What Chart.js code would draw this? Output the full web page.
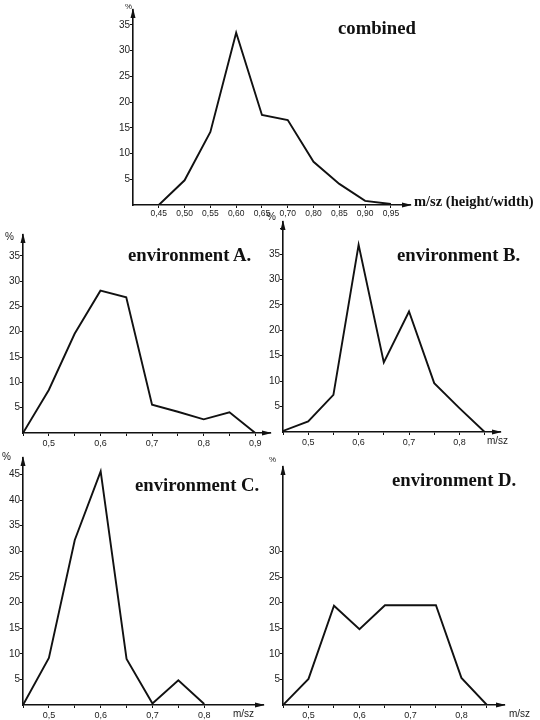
<!DOCTYPE html>
<html>
<head>
<meta charset="utf-8">
<script src="https://cdn.jsdelivr.net/npm/chart.js@4.4.1/dist/chart.umd.min.js"></script>
<style>
  body { margin: 0; background: #fff; width: 540px; height: 720px; position: relative; overflow: hidden; }
  canvas { position: absolute; }
  .title { position: absolute; font-family: "Liberation Serif", serif; font-weight: bold; font-size: 18.7px; line-height: 18.7px; color: #111; white-space: nowrap; }
  .small { position: absolute; font-family: "Liberation Sans", sans-serif; font-size: 10px; line-height: 10px; color: #222; white-space: nowrap; }
</style>
</head>
<body>
<canvas id="chartCombined" width="320" height="225" style="left:100px;top:0px"></canvas>
<canvas id="chartA" width="280" height="225" style="left:0px;top:225px"></canvas>
<canvas id="chartB" width="280" height="235" style="left:260px;top:215px"></canvas>
<canvas id="chartC" width="270" height="270" style="left:0px;top:450px"></canvas>
<canvas id="chartD" width="278" height="270" style="left:262px;top:450px"></canvas>

<div class="title" style="left:338px;top:19px">combined</div>
<div class="title" style="left:128px;top:246px">environment A.</div>
<div class="title" style="left:397px;top:246px">environment B.</div>
<div class="title" style="left:135px;top:476px">environment C.</div>
<div class="title" style="left:392px;top:471px">environment D.</div>

<div class="title" style="left:414px;top:194px;font-size:14.5px;line-height:14.5px">m/sz (height/width)</div>

<div class="small" style="left:125px;top:2px;font-size:8px">%</div>
<div class="small" style="left:5px;top:232px">%</div>
<div class="small" style="left:267px;top:212px">%</div>
<div class="small" style="left:2px;top:452px">%</div>
<div class="small" style="left:269px;top:455px;font-size:8px">%</div>
<div class="small" style="left:487px;top:436px">m/sz</div>
<div class="small" style="left:233px;top:709px">m/sz</div>
<div class="small" style="left:509px;top:709px">m/sz</div>

<script>
// combined (note: the original axis skips 0,75)
const categoriesCombined = ['0,45', '0,50', '0,55', '0,60', '0,65', '0,70', '0,80', '0,85', '0,90', '0,95'];
const valuesCombined = [0, 4.8, 14.2, 33.5, 17.5, 16.5, 8.4, 4.1, 0.8, 0.2];
const xLabelsCombined = ['0,45', '0,50', '0,55', '0,60', '0,65', '0,70', '0,80', '0,85', '0,90', '0,95'];
const yTicksCombined = [5, 10, 15, 20, 25, 30, 35];
const yLabelsCombined = ['5', '10', '15', '20', '25', '30', '35'];

// environment A
const categoriesA = [0.45, 0.50, 0.55, 0.60, 0.65, 0.70, 0.75, 0.80, 0.85, 0.90];
const valuesA = [0, 8.5, 19.6, 28.1, 26.8, 5.6, 4.2, 2.7, 4.1, 0];
const xLabelsA = ['', '0,5', '', '0,6', '', '0,7', '', '0,8', '', '0,9'];
const yTicksA = [5, 10, 15, 20, 25, 30, 35];
const yLabelsA = ['5', '10', '15', '20', '25', '30', '35'];

// environment B
const categoriesB = [0.45, 0.50, 0.55, 0.60, 0.65, 0.70, 0.75, 0.80, 0.85];
const valuesB = [0.2, 2.1, 7.3, 36.8, 13.7, 23.7, 9.6, 4.7, 0];
const xLabelsB = ['', '0,5', '', '0,6', '', '0,7', '', '0,8', ''];
const yTicksB = [5, 10, 15, 20, 25, 30, 35, 40];
const yLabelsB = ['5', '10', '15', '20', '25', '30', '35', ''];

// environment C
const categoriesC = [0.45, 0.50, 0.55, 0.60, 0.65, 0.70, 0.75, 0.80];
const valuesC = [0, 9.2, 32.2, 45.6, 9.0, 0.3, 4.8, 0.2];
const xLabelsC = ['', '0,5', '', '0,6', '', '0,7', '', '0,8'];
const yTicksC = [5, 10, 15, 20, 25, 30, 35, 40, 45];
const yLabelsC = ['5', '10', '15', '20', '25', '30', '35', '40', '45'];

// environment D
const categoriesD = [0.45, 0.50, 0.55, 0.60, 0.65, 0.70, 0.75, 0.80, 0.85];
const valuesD = [0, 5.1, 19.4, 14.8, 19.5, 19.5, 19.5, 5.3, 0];
const xLabelsD = ['', '0,5', '', '0,6', '', '0,7', '', '0,8', ''];
const yTicksD = [5, 10, 15, 20, 25, 30];
const yLabelsD = ['5', '10', '15', '20', '25', '30'];

const ink = '#111';

// axis arrow heads at the top of the y axis and the end of the x axis
const arrowPlugin = {
    id: 'arrows',
    afterDraw(chart) {
        const ctx = chart.ctx;
        const a = chart.chartArea;
        ctx.save();
        ctx.fillStyle = ink;
        ctx.beginPath();
        ctx.moveTo(a.left, a.top - 2);
        ctx.lineTo(a.left - 2.5, a.top + 8);
        ctx.lineTo(a.left + 2.5, a.top + 8);
        ctx.closePath();
        ctx.fill();
        ctx.beginPath();
        ctx.moveTo(a.right + 2, a.bottom);
        ctx.lineTo(a.right - 8, a.bottom - 2.5);
        ctx.lineTo(a.right - 8, a.bottom + 2.5);
        ctx.closePath();
        ctx.fill();
        ctx.restore();
    }
};

function makeChart(id, categories, values, xLabels, yTicks, yLabels, xMin, xMax, yMax, pad, yWidth, xHeight, xFont, xPad) {
    const points = values.map((v, i) => ({ x: i, y: v }));
    return new Chart(document.getElementById(id), {
        type: 'line',
        data: {
            datasets: [{
                data: points,
                borderColor: ink,
                borderWidth: 1.9,
                pointRadius: 0,
                tension: 0,
                fill: false
            }]
        },
        options: {
            responsive: false,
            animation: false,
            layout: { padding: { top: pad.top, right: pad.right, left: 0, bottom: 0 } },
            plugins: {
                legend: { display: false },
                tooltip: { enabled: false }
            },
            scales: {
                x: {
                    type: 'linear',
                    min: xMin,
                    max: xMax,
                    afterBuildTicks: s => { s.ticks = categories.map((c, i) => ({ value: i })); },
                    afterFit: s => { s.height = xHeight; },
                    ticks: {
                        autoSkip: false,
                        maxRotation: 0,
                        padding: xPad,
                        color: '#222',
                        font: { family: 'Liberation Sans', size: xFont },
                        callback: (value, index) => xLabels[index]
                    },
                    grid: { drawOnChartArea: false, drawTicks: true, tickLength: 3, color: ink, lineWidth: 1 },
                    border: { color: ink, width: 1.6 }
                },
                y: {
                    type: 'linear',
                    min: 0,
                    max: yMax,
                    afterBuildTicks: s => { s.ticks = yTicks.map(v => ({ value: v })); },
                    afterFit: s => { s.width = yWidth; },
                    ticks: {
                        autoSkip: false,
                        padding: 0,
                        color: '#222',
                        font: { family: 'Liberation Sans', size: 10 },
                        callback: (value, index) => yLabels[index]
                    },
                    grid: { drawOnChartArea: false, drawTicks: true, tickLength: 3, color: ink, lineWidth: 1 },
                    border: { color: ink, width: 1.6 }
                }
            }
        },
        plugins: [arrowPlugin]
    });
}

makeChart('chartCombined', categoriesCombined, valuesCombined, xLabelsCombined, yTicksCombined, yLabelsCombined,
    -1, 9.74, 37.9, { top: 10, right: 10 }, 33, 20, 8.5, 1);
makeChart('chartA', categoriesA, valuesA, xLabelsA, yTicksA, yLabelsA,
    0, 9.57, 39.1, { top: 10, right: 10 }, 23, 17, 9, 2);
makeChart('chartB', categoriesB, valuesB, xLabelsB, yTicksB, yLabelsB,
    0, 8.61, 41.3, { top: 7, right: 40 }, 23, 18, 9, 2);
makeChart('chartC', categoriesC, valuesC, xLabelsC, yTicksC, yLabelsC,
    0, 9.27, 48.2, { top: 8, right: 7 }, 23, 15, 9, 2);
makeChart('chartD', categoriesD, valuesD, xLabelsD, yTicksD, yLabelsD,
    0, 8.67, 46.5, { top: 17, right: 36 }, 21, 15, 9, 2);
</script>
</body>
</html>
